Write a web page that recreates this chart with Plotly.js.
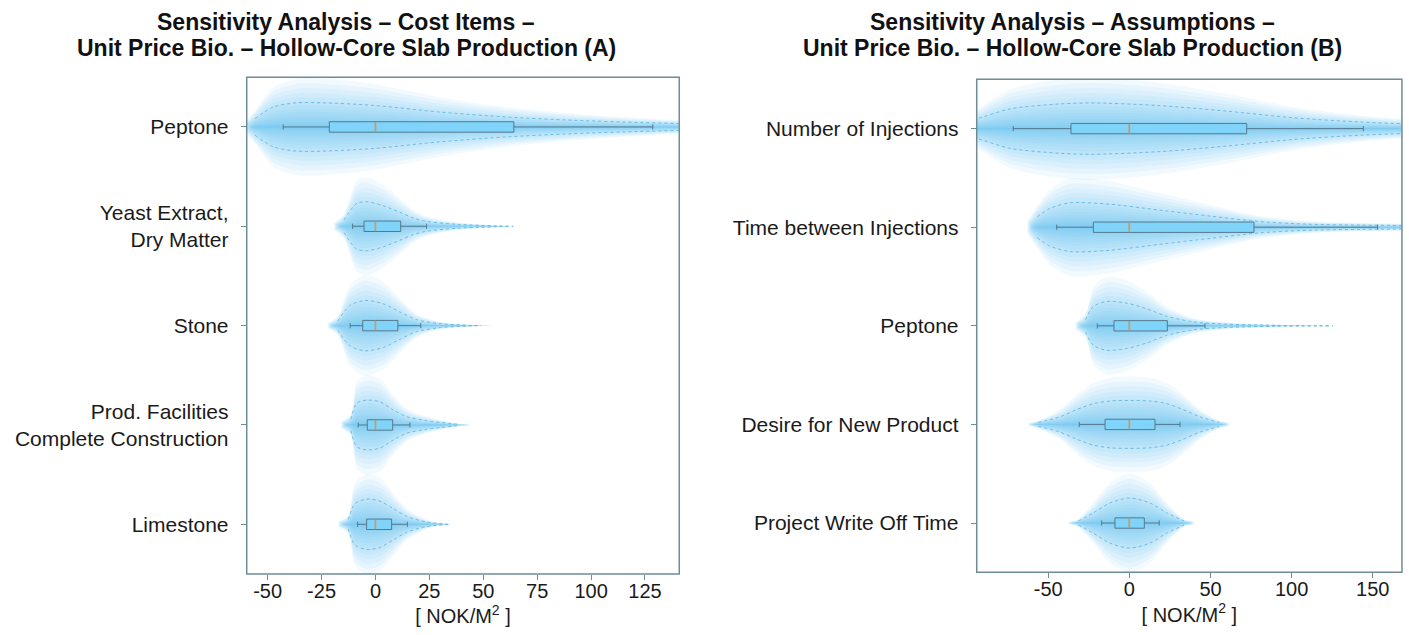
<!DOCTYPE html>
<html>
<head>
<meta charset="utf-8">
<script src="https://cdn.plot.ly/plotly-3.0.1.min.js"></script>
<style>html,body{margin:0;padding:0;background:#fff;}#chart{width:1409px;height:635px;}</style>
</head>
<body>
<div id="chart"></div>
<script>
// ---------- Panel A : cost items ----------
const catsA = ["Peptone", "Yeast Extract,<br>Dry Matter", "Stone", "Prod. Facilities<br>Complete Construction", "Limestone"];
const lowA  = [-42.8, -10.6, -11.7, -8.0, -8.3];
const q1A   = [-21.4, -5.3, -5.9, -3.8, -4.1];
const medA  = [0, 0, 0, 0, 0];
const q3A   = [64.2, 11.7, 10.4, 8.0, 7.5];
const highA = [128.6, 23.7, 21.0, 16.0, 14.8];
// violin outline: value positions and half-widths (category units)
const peptoneA_x   = [-55.9, -47.4, -36.6, -24.2, -1.0, 29.9, 60.9, 91.7, 122.7, 141, 160];
const peptoneA_w   = [0.083, 0.200, 0.243, 0.243, 0.217, 0.150, 0.100, 0.067, 0.045, 0.035, 0.030];
const yeastA_x     = [-14.6, -8.7, -4.1, 3.6, 11.4, 17.5, 23.7, 37.7, 63.9];
const yeastA_w     = [0.063, 0.230, 0.247, 0.207, 0.140, 0.083, 0.050, 0.020, 0.0];
const stoneA_x     = [-17.5, -11.8, -4.9, 3.6, 11.4, 19.1, 29.9, 49.2];
const stoneA_w     = [0.047, 0.203, 0.253, 0.220, 0.137, 0.060, 0.020, 0.0];
const prodA_x      = [-11.4, -8.7, -4.1, 2.1, 8.3, 14.5, 23.7, 39.2];
const prodA_w      = [0.057, 0.217, 0.250, 0.233, 0.150, 0.083, 0.043, 0.005];
const limestoneA_x = [-12.6, -9.5, -4.1, 2.1, 8.3, 14.5, 23.7, 34.9];
const limestoneA_w = [0.047, 0.207, 0.253, 0.233, 0.157, 0.080, 0.023, 0.0];
const profXA = [peptoneA_x, yeastA_x, stoneA_x, prodA_x, limestoneA_x];
const profWA = [peptoneA_w, yeastA_w, stoneA_w, prodA_w, limestoneA_w];
const ticksA = [-50, -25, 0, 25, 50, 75, 100, 125];

// ---------- Panel B : assumptions ----------
const catsB = ["Number of Injections", "Time between Injections", "Peptone", "Desire for New Product", "Project Write Off Time"];
const lowB  = [-71.6, -44.8, -19.8, -30.9, -17.1];
const q1B   = [-36.0, -22.2, -9.5, -15.0, -8.9];
const medB  = [0, 0, 0, 0, 0];
const q3B   = [72.3, 76.8, 23.4, 15.8, 9.2];
const highB = [144.2, 153.0, 46.6, 31.2, 18.4];
const injectB_x  = [-100, -94.2, -73.6, -42.8, -22.3, 18.9, 60.0, 101.0, 142.2, 168, 180];
const injectB_w  = [0.090, 0.100, 0.200, 0.250, 0.260, 0.233, 0.177, 0.110, 0.067, 0.050, 0.045];
const timeB_x    = [-56.8, -49.0, -36.6, -12.0, 18.9, 49.7, 80.5, 111.3, 142.2, 168, 180];
const timeB_w    = [0.107, 0.190, 0.247, 0.233, 0.173, 0.113, 0.057, 0.030, 0.022, 0.018, 0.016];
const peptoneB_x = [-27.0, -22.2, -14.0, -1.7, 10.7, 23.0, 39.4, 60.0, 90.8, 125.3];
const peptoneB_w = [0.063, 0.197, 0.247, 0.230, 0.173, 0.097, 0.040, 0.017, 0.005, 0.0];
const desireB_x  = [-56.2, -42.8, -32.5, -22.2, -12.0, 0.0, 12.7, 23.0, 33.2, 43.5, 55.4];
const desireB_w  = [0.020, 0.077, 0.150, 0.210, 0.237, 0.243, 0.237, 0.210, 0.150, 0.077, 0.020];
const projectB_x = [-31.5, -22.2, -12.0, 0.0, 12.7, 23.0, 33.7];
const projectB_w = [0.020, 0.103, 0.203, 0.253, 0.203, 0.103, 0.020];
const profXB = [injectB_x, timeB_x, peptoneB_x, desireB_x, projectB_x];
const profWB = [injectB_w, timeB_w, peptoneB_w, desireB_w, projectB_w];
const ticksB = [-50, 0, 50, 100, 150];

// ---------- styling ----------
const FONT = "Liberation Sans, Arial, Helvetica, sans-serif";
const TXT = "#1a1a1a";
const SPINE = "#6e8c96";
const GLOW = "rgba(84,196,248,0.08)";
const NLAYERS = 18, MAXSCALE = 2.0, TIP_PX = 10;
const domA = [0.1751, 0.4821], rangeA = [-59.7, 140.9];
const domB = [0.6932, 0.995], rangeB = [-94.1, 168];
const W = 1409;

const traces = [];
function addViolins(profX, profW, xa, ya, dom, rng) {
  const pxPerUnit = (dom[1] - dom[0]) * W / (rng[1] - rng[0]);
  profX.forEach((xs, i) => {
    const ws = profW[i];
    const n = xs.length;
    for (let k = 1; k <= NLAYERS; k++) {
      const f = k / NLAYERS;
      const s = MAXSCALE * f * f;
      const ext = TIP_PX * f / pxPerUnit;
      const lx = [xs[0] - ext].concat(xs, [xs[n - 1] + ext]);
      const lw = [ws[0] * s * 0.3].concat(ws.map(w => w * s), [ws[n - 1] * s * 0.3]);
      const px = lx.concat(lx.slice().reverse());
      const py = lw.map(w => i - w).concat(lw.map(w => i + w).reverse());
      traces.push({type: 'scatter', mode: 'lines', x: px, y: py, fill: 'toself', fillcolor: GLOW,
        line: {width: 0, shape: 'spline', smoothing: 0.8}, hoverinfo: 'skip', showlegend: false,
        xaxis: xa, yaxis: ya, zorder: 0});
    }
    const ox = xs.concat([null]).concat(xs);
    const oy = ws.map(w => i - w).concat([null]).concat(ws.map(w => i + w));
    traces.push({type: 'scatter', mode: 'lines', x: ox, y: oy, connectgaps: false,
      line: {width: 1, color: 'rgba(95,185,225,0.9)', dash: '3px,3px', shape: 'spline', smoothing: 0.8},
      hoverinfo: 'skip', showlegend: false, xaxis: xa, yaxis: ya, zorder: 1});
  });
}
function addBoxes(low, q1, med, q3, high, xa, ya) {
  const pos = low.map((_, i) => i);
  traces.push({type: 'box', orientation: 'h', y: pos, lowerfence: low, q1: q1, median: med, q3: q3, upperfence: high,
    width: 0.105, whiskerwidth: 0.5, fillcolor: 'rgb(128,212,250)', line: {color: '#55798c', width: 1},
    boxpoints: false, hoverinfo: 'skip', showlegend: false, xaxis: xa, yaxis: ya, zorder: 5});
  const mx = [], my = [];
  med.forEach((m, i) => { mx.push(m, m, null); my.push(i - 0.05, i + 0.05, null); });
  traces.push({type: 'scatter', mode: 'lines', x: mx, y: my, line: {color: '#dc9650', width: 1.6},
    hoverinfo: 'skip', showlegend: false, xaxis: xa, yaxis: ya, zorder: 6});
}
addViolins(profXA, profWA, 'x', 'y', domA, rangeA);
addViolins(profXB, profWB, 'x2', 'y2', domB, rangeB);
addBoxes(lowA, q1A, medA, q3A, highA, 'x', 'y');
addBoxes(lowB, q1B, medB, q3B, highB, 'x2', 'y2');

const xBase = {showline: false, ticks: 'outside', ticklen: 5, tickwidth: 1,
  tickcolor: SPINE, showgrid: false, zeroline: false, fixedrange: true, ticklabelstandoff: -6,
  tickfont: {family: FONT, size: 20, color: TXT},
  title: {text: "[ NOK/M<sup>2</sup> ]", font: {family: FONT, size: 20, color: TXT}, standoff: 0}};
const yBase = {showline: false, ticks: 'outside', ticklen: 5, tickwidth: 1, ticklabelstandoff: 8,
  tickcolor: SPINE, showgrid: false, zeroline: false, fixedrange: true, range: [4.5, -0.5],
  tickvals: [0, 1, 2, 3, 4], tickfont: {family: FONT, size: 21, color: TXT}};

const frame = (xr, yr) => ({type: 'rect', xref: xr + ' domain', yref: yr + ' domain', x0: 0, x1: 1, y0: 0, y1: 1,
  line: {color: SPINE, width: 1.5}, fillcolor: 'rgba(0,0,0,0)', layer: 'above'});
const titleAnn = (x, y, text) => ({xref: 'paper', yref: 'paper', x: x, y: y, xanchor: 'center', yanchor: 'middle',
  showarrow: false, text: '<b>' + text + '</b>', font: {family: FONT, size: 23, color: '#111'}});

const layout = {
  width: 1409, height: 635, margin: {l: 0, r: 0, t: 0, b: 0},
  paper_bgcolor: '#ffffff', plot_bgcolor: '#ffffff', showlegend: false, boxmode: 'overlay',
  xaxis: Object.assign({}, xBase, {domain: domA, range: rangeA, tickvals: ticksA, ticktext: ticksA.map(String), anchor: 'y'}),
  yaxis: Object.assign({}, yBase, {domain: [0.0961, 0.8783], ticktext: catsA, anchor: 'x'}),
  xaxis2: Object.assign({}, xBase, {domain: domB, range: rangeB, tickvals: ticksB, ticktext: ticksB.map(String), anchor: 'y2'}),
  yaxis2: Object.assign({}, yBase, {domain: [0.0987, 0.8751], ticktext: catsB, anchor: 'x2'}),
  shapes: [frame('x', 'y'), frame('x2', 'y2')],
  annotations: [
    titleAnn(0.2456, 1 - 22 / 635, "Sensitivity Analysis – Cost Items –"),
    titleAnn(0.2456, 1 - 48 / 635, "Unit Price Bio. – Hollow-Core Slab Production (A)"),
    titleAnn(0.7615, 1 - 22 / 635, "Sensitivity Analysis – Assumptions –"),
    titleAnn(0.7615, 1 - 48 / 635, "Unit Price Bio. – Hollow-Core Slab Production (B)")
  ]
};
Plotly.newPlot('chart', traces, layout, {displayModeBar: false, staticPlot: true});
</script>
</body>
</html>
